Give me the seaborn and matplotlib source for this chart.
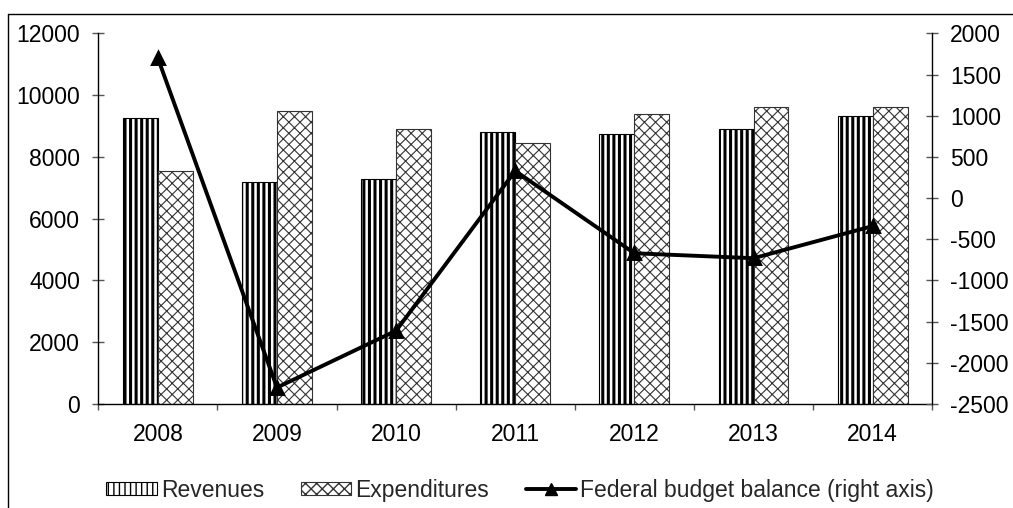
import numpy as np
import pandas as pd
import matplotlib
matplotlib.use("Agg")
import matplotlib.pyplot as plt
from matplotlib.lines import Line2D
from matplotlib.patches import Patch
import seaborn as sns

# Federal budget figures by year
years = ["2008", "2009", "2010", "2011", "2012", "2013", "2014"]
revenues = [9270, 7200, 7300, 8790, 8740, 8890, 9310]
expenditures = [7550, 9480, 8900, 8450, 9380, 9610, 9630]
balance = [1700, -2300, -1610, 330, -670, -730, -340]

series_names = ["Revenues", "Expenditures"]
balance_label = "Federal budget balance (right axis)"

sns.set_theme(style="white")
plt.rcParams["font.family"] = ["Liberation Sans", "DejaVu Sans"]
plt.rcParams["hatch.linewidth"] = 1.0
plt.rcParams["axes.unicode_minus"] = False

FS = 16.5

df = pd.DataFrame({
    "year": years * 2,
    "value": revenues + expenditures,
    "series": [series_names[0]] * len(years) + [series_names[1]] * len(years),
})

fig = plt.figure(figsize=(10.13, 5.08), dpi=100)
ax = fig.add_axes([0.0970, 0.2047, 0.8233, 0.7297])

sns.barplot(data=df, x="year", y="value", hue="series", order=years,
            hue_order=series_names, palette=["white", "white"], width=0.586,
            ax=ax, saturation=1)
if ax.get_legend() is not None:
    ax.get_legend().remove()

styles = {
    series_names[0]: dict(hatch="|||", edgecolor="black", hlw=2.2),
    series_names[1]: dict(hatch="xxx", edgecolor="#333333", hlw=0.8),
}
n = len(years)
for i, patch in enumerate(ax.patches[: 2 * n]):
    st = styles[series_names[i // n]]
    patch.set_hatch(st["hatch"])
    patch.set_edgecolor(st["edgecolor"])
    patch.set_linewidth(0.8)
    if hasattr(patch, "set_hatch_linewidth"):
        patch.set_hatch_linewidth(st["hlw"])

ax2 = ax.twinx()
sns.pointplot(x=years, y=balance, order=years, ax=ax2, color="black",
              markers="^", linestyles="-", errorbar=None,
              markersize=9, linewidth=2.8)

for a in (ax, ax2):
    a.set_xlim(-0.5, n - 0.5)
    a.set_xlabel("")
    a.set_ylabel("")
    for s in a.spines.values():
        s.set_visible(False)

ax.set_ylim(0, 12000)
ax.set_yticks(np.arange(0, 12001, 2000))
ax2.set_ylim(-2500, 2000)
ax2.set_yticks(np.arange(-2500, 2001, 500))

ax.spines["left"].set_visible(True)
ax.spines["bottom"].set_visible(True)
ax2.spines["right"].set_visible(True)
for s in (ax.spines["left"], ax.spines["bottom"], ax2.spines["right"]):
    s.set_color("black")
    s.set_linewidth(1.0)

ax.set_xticks(range(n))
ax.set_xticklabels(years)
ax.set_xticks(np.arange(-0.5, n, 1.0), minor=True)
ax.tick_params(axis="x", which="major", length=0, pad=14, labelsize=FS,
               colors="black")
ax.tick_params(axis="x", which="minor", length=4.5, direction="out",
               color="#555555", width=1, bottom=True)
ax.tick_params(axis="y", which="major", length=9, direction="inout",
               color="#555555", width=1, labelsize=FS, pad=8.5, left=True,
               labelcolor="black")
ax2.tick_params(axis="y", which="major", length=9, direction="inout",
                color="#555555", width=1, labelsize=FS, pad=8.5, right=True,
                labelcolor="black")

handles = [
    Patch(facecolor="white", edgecolor="black", hatch="|||", linewidth=0.8,
          label=series_names[0]),
    Patch(facecolor="white", edgecolor="#333333", hatch="xxx", linewidth=0.8,
          label=series_names[1]),
    Line2D([], [], color="black", linewidth=2.8, marker="^", markersize=9,
           label=balance_label),
]
fig.legend(handles=handles, loc="center", bbox_to_anchor=(520 / 1013, 0.035),
           ncol=3, frameon=False, fontsize=FS, handlelength=2.2,
           handletextpad=0.18, columnspacing=1.6, handleheight=0.47)

# partial border around the chart area
fig.add_artist(Line2D([8 / 1013, 8 / 1013], [0, 1 - 14 / 508],
                      transform=fig.transFigure, color="black", linewidth=1.0))
fig.add_artist(Line2D([8 / 1013, 1], [1 - 14 / 508, 1 - 14 / 508],
                      transform=fig.transFigure, color="black", linewidth=1.0))

fig.savefig("out.png", dpi=100)
